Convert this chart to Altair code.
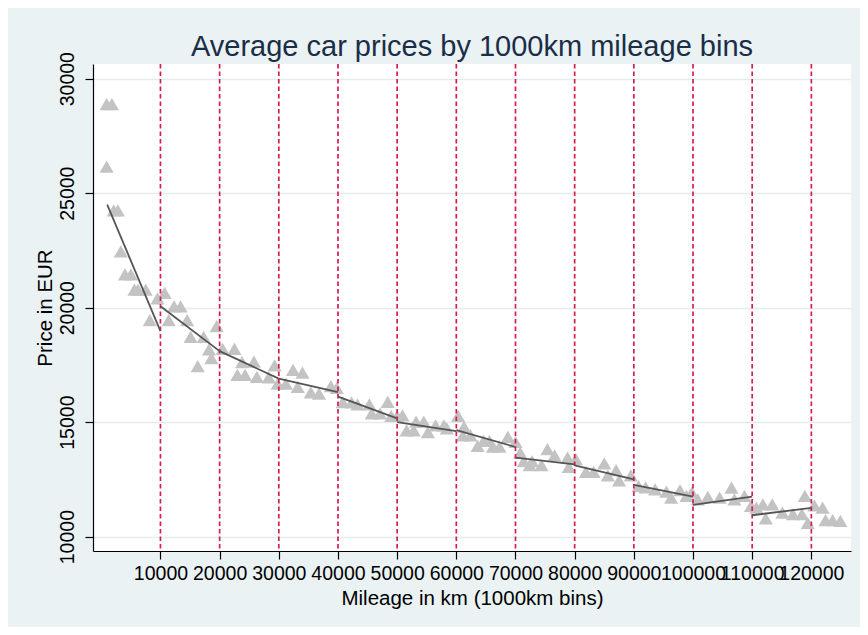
import altair as alt
import pandas as pd

# ---- data ----
mileage = [900, 900, 1800, 2100, 2800, 3300, 4000, 5000, 5600, 6200,
           7500, 8200, 9500, 10700, 11400, 12300, 13400, 14500, 15100, 16300,
           17300, 18200, 18600, 19500, 20500, 22500, 23000, 23800, 24300, 25800,
           26300, 28300, 29300, 29800, 31200, 32400, 33200, 34000, 35400, 36800,
           38800, 39800, 40800, 42300, 43300, 45300, 45700, 47100, 48400, 49000,
           50000, 50900, 51600, 52800, 53200, 54500, 55200, 56500, 57900, 58400,
           60300, 61100, 61300, 62400, 63600, 64600, 65600, 66200, 67300, 68700,
           70000, 70800, 71400, 72400, 72800, 74400, 75400, 76600, 78800, 79000,
           80200, 81900, 83200, 85000, 85600, 87000, 87500, 89500, 90800, 92000,
           93600, 95500, 96300, 97800, 98900, 99800, 100800, 102500, 104500, 106500,
           107000, 108700, 109800, 110700, 111800, 112300, 113400, 115100, 116900, 118400,
           118900, 119400, 120500, 121900, 122400, 123600, 124900]
price = [28890, 26160, 28890, 24250, 24250, 22460, 21450, 21450, 20790, 20790,
         20790, 19460, 20400, 20650, 19460, 20060, 20060, 19460, 18720, 17450,
         18720, 18180, 17800, 19190, 18200, 18200, 17060, 17620, 17060, 17640,
         16980, 16960, 17480, 16680, 16680, 17280, 16540, 17160, 16300, 16250,
         16570, 16500, 15870, 15860, 15780, 15780, 15380, 15380, 15890, 15270,
         15270, 15300, 14640, 14640, 15020, 15020, 14560, 14860, 14860, 14730,
         15270, 14420, 14800, 14420, 13960, 14180, 14180, 13930, 13930, 14360,
         14140, 13670, 13300, 13120, 13300, 13120, 13820, 13550, 13450, 13050,
         13380, 12830, 12830, 13200, 12680, 12900, 12460, 12680, 12210, 12150,
         12060, 11960, 11700, 12030, 11780, 11930, 11630, 11740, 11700, 12140,
         11630, 11780, 11340, 11270, 11410, 10800, 11410, 11050, 10980, 10980,
         11780, 10600, 11360, 11270, 10720, 10720, 10690]

# linear fit per 10000 km segment: start/end mileage and fitted price
seg_x0 = [1000, 10000, 20000, 30000, 40000, 50000, 60000, 70000, 80000, 90000, 100000, 110000]
seg_x1 = [10000, 20000, 30000, 40000, 50000, 60000, 70000, 80000, 90000, 100000, 110000, 120000]
seg_y0 = [24500, 20065, 18102, 16898, 16113, 15004, 14656, 13451, 13115, 12256, 11383, 10934]
seg_y1 = [18975, 18102, 16898, 16313, 15166, 14612, 13914, 13159, 12504, 11750, 11750, 11253]

xlines = [10000, 20000, 30000, 40000, 50000, 60000, 70000, 80000, 90000, 100000, 110000, 120000]
y_ticks = [10000, 15000, 20000, 25000, 30000]

pts = pd.DataFrame({"mileage": mileage, "price": price})
fit_rows = []
for i in range(len(seg_x0)):
    fit_rows.append({"seg": i, "mileage": seg_x0[i], "price": seg_y0[i]})
    fit_rows.append({"seg": i, "mileage": seg_x1[i], "price": seg_y1[i]})
fit = pd.DataFrame(fit_rows)
vl = pd.DataFrame({"mileage": xlines})

FONT = "Liberation Sans"

xscale = alt.Scale(domain=[-1400, 126700], nice=False, zero=False)
yscale = alt.Scale(domain=[9372, 30641], nice=False, zero=False)

xaxis = alt.Axis(values=xlines, format="d", labelOverlap=False, labelFlush=False,
                 labelBound=False, grid=False, tickSize=8, tickColor="black",
                 tickWidth=1.2, domainColor="black", domainWidth=1.2,
                 labelFont=FONT, labelFontSize=19.5, labelColor="black",
                 labelBaseline="alphabetic", labelPadding=20,
                 title="Mileage in km (1000km bins)", titleFont=FONT,
                 titleFontSize=20.5, titleFontWeight="normal", titleColor="black",
                 titleX=379, titleY=53.5, titleBaseline="alphabetic", titleAlign="center")

yaxis = alt.Axis(values=y_ticks, format="d", grid=True, gridColor="#e3ecef",
                 gridWidth=1.5, tickSize=8, tickColor="black", tickWidth=1.2,
                 domainColor="black", domainWidth=1.2,
                 labelFont=FONT, labelFontSize=19.5, labelColor="black",
                 labelAngle=270, labelAlign="center", labelBaseline="alphabetic",
                 labelPadding=11.5, labelOverlap=False, labelFlush=False, labelBound=False,
                 title="Price in EUR", titleFont=FONT, titleFontSize=20.5,
                 titleFontWeight="normal", titleColor="black", titleAngle=270,
                 titleX=-41.5, titleY=243.5, titleBaseline="alphabetic", titleAlign="center")

points = alt.Chart(pts).mark_point(shape="triangle-up", filled=True, size=200,
                                   color="#c3c3c3", opacity=1).encode(
    x=alt.X("mileage:Q", scale=xscale, axis=xaxis),
    y=alt.Y("price:Q", scale=yscale, axis=yaxis),
)

rules = alt.Chart(vl).mark_rule(color="#d81e4b", strokeDash=[4.5, 3], strokeWidth=1.7).encode(
    x=alt.X("mileage:Q", scale=xscale),
)

lines = alt.Chart(fit).mark_line(color="#555555", strokeWidth=1.8).encode(
    x=alt.X("mileage:Q", scale=xscale),
    y=alt.Y("price:Q", scale=yscale),
    detail="seg:N",
)

chart = alt.layer(points, rules, lines).properties(
    width=758, height=487,
    padding={"left": 85, "top": 56, "right": 9, "bottom": 76},
    autosize=alt.AutoSizeParams(type="none"),
    title=alt.TitleParams("Average car prices by 1000km mileage bins", font=FONT,
                          fontSize=29, fontWeight="normal", color="#1a2e48",
                          anchor="middle", frame="group", baseline="alphabetic",
                          offset=0, dy=33),
    background="#eaf2f3",
).configure_view(fill="white", stroke=None)

chart.save("out.html", embed_options={"renderer": "svg", "actions": False})
